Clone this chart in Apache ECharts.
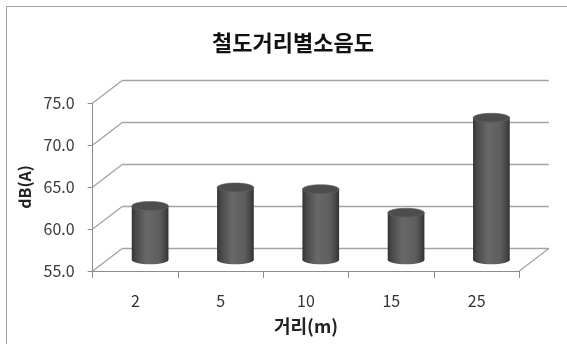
<!DOCTYPE html>
<html>
<head>
<meta charset="utf-8">
<script src="https://cdn.jsdelivr.net/npm/echarts@6/dist/echarts.min.js"></script>
<style>
    html, body { margin: 0; padding: 0; background: #fff; }
    #chart { width: 567px; height: 344px; }
</style>
</head>
<body>
<div id="chart"></div>
<script>
// 데이터
var categories = ['2', '5', '10', '15', '25'];
var noiseValues = [61.4, 63.6, 63.4, 60.6, 71.9];
var yTicks = [55, 60, 65, 70, 75];

(function(win){
    var FONT = '"Noto Sans CJK KR", "Noto Sans", sans-serif';
    // 3D 깊이 (앞면 -> 뒷벽)
    var DX = 29.5, DY = -22.5;
    // 앞면 plot 영역
    var front = {left: 92.7, right: 47.7, top: 103, bottom: 73};

    function shift(g, k){
        return {
            left: g.left + DX * k,
            right: g.right - DX * k,
            top: g.top + DY * k,
            bottom: g.bottom - DY * k
        };
    }
    var back = shift(front, 1);
    var mid = shift(front, 0.5);

    var yMin = yTicks[0], yMax = yTicks[yTicks.length - 1];
    var lineColor = '#a3a3a3';

    var chart = echarts.init(document.getElementById('chart'));

    var option = {
        backgroundColor: '#fff',
        animation: false,
        title: {
            text: '철도거리별소음도',
            left: 288,
            top: 27,
            textAlign: 'center',
            textStyle: {fontFamily: FONT, fontSize: 22, fontWeight: 'bold', color: '#111'}
        },
        graphic: [{
            type: 'rect',
            shape: {x: 6.5, y: 6.5, width: 620, height: 400},
            style: {fill: 'none', stroke: '#a0a0a0', lineWidth: 1},
            silent: true
        }],
        grid: [
            $grid(front),
            $grid(back),
            $grid(mid)
        ],
        xAxis: [
            {   // 앞면
                gridIndex: 0,
                type: 'category',
                data: categories,
                name: '거리(m)',
                nameLocation: 'middle',
                nameGap: 46,
                nameTextStyle: {fontFamily: FONT, fontSize: 18, fontWeight: 'bold', color: '#222'},
                axisLine: {lineStyle: {color: '#8c8c8c'}},
                axisTick: {show: true, length: 7, lineStyle: {color: '#8c8c8c'}},
                axisLabel: {margin: 22, fontFamily: FONT, fontSize: 16, color: '#333'},
                splitLine: {show: false}
            },
            {gridIndex: 1, type: 'category', data: categories, show: false},
            {gridIndex: 2, type: 'category', data: categories, show: false}
        ],
        yAxis: [
            {
                gridIndex: 0,
                type: 'value',
                min: yMin, max: yMax, interval: 5,
                name: 'dB(A)',
                nameLocation: 'middle',
                nameGap: 57,
                nameTextStyle: {fontFamily: FONT, fontSize: 16, fontWeight: 'bold', color: '#222'},
                axisLine: {show: true, lineStyle: {color: '#8c8c8c'}},
                axisTick: {show: true, length: 5, lineStyle: {color: '#8c8c8c'}},
                axisLabel: {
                    margin: 18, fontFamily: FONT, fontSize: 16, color: '#3a3a3a',
                    formatter: function(v){ return v.toFixed(1); }
                },
                splitLine: {show: false}
            },
            {   // 뒷벽 눈금선
                gridIndex: 1,
                type: 'value',
                min: yMin, max: yMax, interval: 5,
                axisLine: {show: false},
                axisTick: {show: false},
                axisLabel: {show: false},
                splitLine: {show: true, lineStyle: {color: lineColor, width: 1.3}}
            },
            {gridIndex: 2, type: 'value', min: yMin, max: yMax, interval: 5, show: false}
        ],
        series: [
            {   // 옆벽/바닥 사선
                type: 'custom',
                xAxisIndex: 0, yAxisIndex: 0,
                silent: true,
                data: yTicks.map(function(v){ return [0, v]; }).concat([[1, yMin]]),
                renderItem: function(params, api){
                    var cs = params.coordSys;
                    var x = api.value(0) ? cs.x + cs.width : cs.x;
                    var y = api.coord([0, api.value(1)])[1];
                    return {
                        type: 'line',
                        shape: {x1: x, y1: y, x2: x + DX, y2: y + DY},
                        style: {stroke: lineColor, lineWidth: 1.3}
                    };
                },
                z: 1
            },
            {   // 원통 막대
                type: 'custom',
                xAxisIndex: 2, yAxisIndex: 2,
                data: noiseValues.map(function(v, i){ return [i, v]; }),
                renderItem: function(params, api){
                    var top = api.coord([api.value(0), api.value(1)]);
                    var base = api.coord([api.value(0), yMin]);
                    var w = api.size([1, 0])[0] * 0.43;
                    var cx = top[0], rx = w / 2, ry = 4.5;
                    var bodyFill = new echarts.graphic.LinearGradient(0, 0, 1, 0, [
                        {offset: 0, color: '#333333'},
                        {offset: 0.1, color: '#484848'},
                        {offset: 0.4, color: '#686868'},
                        {offset: 0.75, color: '#5e5e5e'},
                        {offset: 0.92, color: '#444444'},
                        {offset: 1, color: '#303030'}
                    ]);
                    return {
                        type: 'group',
                        children: [
                            {
                                type: 'ellipse',
                                shape: {cx: cx, cy: base[1], rx: rx, ry: ry},
                                style: {fill: bodyFill}
                            },
                            {
                                type: 'rect',
                                shape: {x: cx - rx, y: top[1], width: w, height: base[1] - top[1]},
                                style: {fill: bodyFill}
                            },
                            {
                                type: 'ellipse',
                                shape: {cx: cx, cy: top[1], rx: rx, ry: ry},
                                style: {fill: '#4d4d4d', stroke: '#646464', lineWidth: 0.6}
                            }
                        ]
                    };
                },
                z: 3
            }
        ]
    };

    function $grid(g){
        return {left: g.left, right: g.right, top: g.top, bottom: g.bottom, containLabel: false};
    }

    chart.setOption(option);
})(window);
</script>
</body>
</html>
